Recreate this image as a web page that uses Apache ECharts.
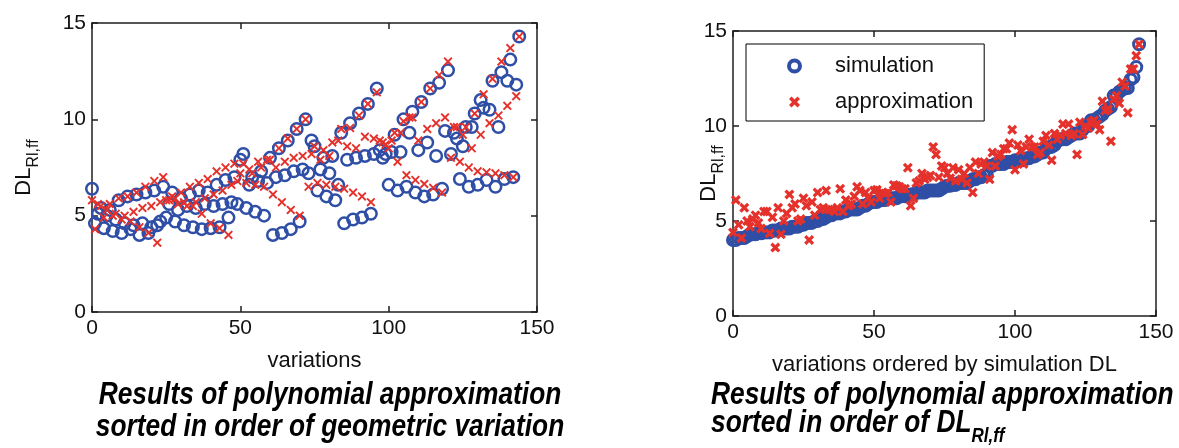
<!DOCTYPE html>
<html>
<head>
<meta charset="utf-8">
<script src="https://cdn.jsdelivr.net/npm/echarts@6/dist/echarts.min.js"></script>
<style>
html,body{margin:0;padding:0;background:#fff;}
#chart{width:1179px;height:448px;}
</style>
</head>
<body>
<div id="chart"></div>
<script>
// DL_Rl,ff for each geometric variation (array index = variation 0..144)
var simulation = [
  6.4,
  4.6, 5.1, 5.4, 4.35, 5.0, 5.3, 4.2, 4.8, 5.8, 4.1, 4.6, 6.0, 4.3, 4.5, 6.1, 4.0, 4.6, 6.2, 4.1, 4.4, 6.3, 4.5, 4.7, 6.5,
  4.9, 5.6, 6.2, 4.7, 5.3, 5.9, 4.5, 5.5, 6.1, 4.4, 5.4, 6.3, 4.3, 5.6, 6.2, 4.35, 5.5, 6.6, 4.4, 5.6, 6.85, 4.9, 5.7, 7.0,
  5.6, 7.9, 8.2, 5.4, 6.6, 7.0, 5.2, 6.8, 7.3, 5.0, 6.7, 8.0, 4.0, 7.0, 8.5, 4.1, 7.1, 8.9, 4.3, 7.3, 9.5, 4.7, 7.4, 10.0,
  7.2, 8.9, 8.6, 6.3, 7.4, 8.0, 6.0, 7.2, 8.1, 5.8, 6.6, 9.3, 4.6, 7.9, 9.8, 4.8, 8.0, 10.3, 4.9, 8.1, 10.8, 5.1, 8.2, 11.6,
  8.4, 8.0, 8.2, 6.6, 8.3, 9.2, 6.3, 8.3, 10.0, 6.5, 9.3, 10.4, 6.2, 8.4, 10.9, 6.0, 8.8, 11.6, 6.1, 8.1, 11.9, 6.4, 9.4, 12.55,
  8.2, 9.3, 9.0, 6.9, 8.6, 9.6, 6.5, 9.6, 10.3, 6.6, 11.0, 10.6, 6.85, 10.5, 12.0, 6.5, 9.6, 12.45, 6.9, 12.0, 13.1, 7.0, 11.8, 14.3
];
var approximation = [
  5.8,
  4.3, 5.6, 5.5, 4.9, 5.3, 5.6, 5.0, 5.1, 5.9, 4.8, 5.0, 6.0, 4.7, 5.2, 6.2, 4.4, 5.4, 6.5, 4.1, 5.5, 6.8, 3.6, 5.7, 7.0,
  5.8, 5.8, 6.0, 5.9, 5.6, 6.2, 5.7, 5.5, 6.5, 5.5, 5.7, 6.7, 5.1, 5.9, 6.9, 4.6, 6.1, 7.3, 4.35, 6.3, 7.5, 4.0, 6.6, 7.7,
  6.8, 7.2, 7.7, 6.7, 7.4, 7.2, 6.6, 7.8, 7.5, 6.5, 7.9, 7.9, 6.1, 7.5, 8.5, 5.7, 7.8, 9.0, 5.3, 8.0, 9.5, 5.0, 8.1, 10.0,
  6.5, 8.2, 8.6, 6.7, 7.9, 8.4, 6.6, 8.1, 8.8, 6.5, 8.9, 9.5, 6.4, 8.6, 9.55, 6.2, 8.5, 10.2, 6.0, 9.1, 10.8, 5.7, 9.0, 11.4,
  8.9, 8.8, 8.7, 8.5, 8.9, 9.3, 7.8, 9.3, 9.9, 7.1, 10.1, 10.1, 6.85, 8.9, 10.9, 6.65, 9.5, 11.6, 6.45, 9.8, 12.3, 6.2, 10.1, 13.0,
  8.0, 9.6, 9.6, 7.8, 9.2, 9.6, 7.5, 8.5, 10.3, 7.3, 9.2, 11.3, 7.25, 9.8, 12.1, 7.2, 10.2, 13.0, 7.1, 10.7, 13.7, 7.0, 11.2, 14.3
];
var xTicks = {min: 0, max: 150, step: 50};
var yTicks = {min: 0, max: 15, step: 5};

var BLUE = '#2f4ea6';
var RED = '#e5312b';
var AX = '#1e1e1e';
var FONT = '"Liberation Sans", Arial, sans-serif';
var crossThin = 'path://M0,1.5L1.5,0L5,3.5L8.5,0L10,1.5L6.5,5L10,8.5L8.5,10L5,6.5L1.5,10L0,8.5L3.5,5Z';
var crossBold = 'path://M0,2.3L2.3,0L5,2.7L7.7,0L10,2.3L7.3,5L10,7.7L7.7,10L5,7.3L2.3,10L0,7.7L2.7,5Z';

// geometric order
var simLeft = simulation.map(function (v, i) { return [i, v]; });
var appLeft = approximation.map(function (v, i) { return [i, v]; });
// ordered by simulated DL
var order = simulation.map(function (v, i) { return i; });
order.sort(function (a, b) { return simulation[a] - simulation[b]; });
var simRight = order.map(function (idx, r) { return [r, simulation[idx]]; });
var appRight = order.map(function (idx, r) { return [r, approximation[idx]]; });

function xAx(grid, pos, name) {
  return {
    gridIndex: grid, type: 'value', position: pos,
    min: xTicks.min, max: xTicks.max, interval: xTicks.step,
    name: name || '', nameLocation: 'middle', nameGap: 38,
    nameTextStyle: {fontFamily: FONT, fontSize: 22, color: '#111'},
    axisLine: {show: true, onZero: false, lineStyle: {color: AX, width: 1.5}},
    axisTick: {show: true, inside: true, length: 6, lineStyle: {color: AX, width: 1.5}},
    axisLabel: {show: pos === 'bottom', margin: 6, fontFamily: FONT, fontSize: 21, color: '#111'},
    splitLine: {show: false}
  };
}
function yAx(grid, pos, gap, moveOverlap) {
  return {
    gridIndex: grid, type: 'value', position: pos,
    min: yTicks.min, max: yTicks.max, interval: yTicks.step,
    name: pos === 'left' ? '{a|DL}{b|Rl,ff}' : '',
    nameLocation: 'middle', nameRotate: 90, nameGap: gap, nameMoveOverlap: moveOverlap,
    nameTextStyle: {
      fontFamily: FONT, fontSize: 21, color: '#111',
      rich: {
        a: {fontFamily: FONT, fontSize: 22, color: '#111', padding: [0, 0, 7, 0]},
        b: {fontFamily: FONT, fontSize: 16, color: '#111', verticalAlign: 'bottom'}
      }
    },
    axisLine: {show: true, onZero: false, lineStyle: {color: AX, width: 1.5}},
    axisTick: {show: true, inside: true, length: 6, lineStyle: {color: AX, width: 1.5}},
    axisLabel: {show: pos === 'left', margin: 6, fontFamily: FONT, fontSize: 21, color: '#111'},
    splitLine: {show: false}
  };
}

function caption(x, y, text, align) {
  return {type: 'text', x: x, y: y, scaleX: 0.85, silent: true,
    style: {text: text, fontFamily: FONT, fontSize: 31, fontStyle: 'italic', fontWeight: 'bold',
      fill: '#000', align: align, verticalAlign: 'middle'}};
}

var chart = echarts.init(document.getElementById('chart'), null, {renderer: 'canvas'});
chart.setOption({
  animation: false,
  backgroundColor: '#fff',
  grid: [
    {left: 92, top: 23, width: 445, height: 289},
    {left: 733, top: 31, width: 423, height: 285}
  ],
  xAxis: [
    xAx(0, 'bottom', 'variations'), xAx(0, 'top'),
    xAx(1, 'bottom', 'variations ordered by simulation DL'), xAx(1, 'top')
  ],
  yAxis: [
    yAx(0, 'left', 50, true), yAx(0, 'right', 0, true),
    yAx(1, 'left', 6, false), yAx(1, 'right', 0, true)
  ],
  legend: {
    orient: 'vertical', left: 746, top: 44,
    borderColor: '#000', borderWidth: 1, padding: [11, 11, 8, 41],
    itemWidth: 71, itemHeight: 11, itemGap: 14,
    textStyle: {fontFamily: FONT, fontSize: 22, color: '#111', lineHeight: 21},
    selectedMode: false,
    data: [
      {name: 'simulation', icon: 'circle', itemStyle: {color: 'rgba(0,0,0,0)', borderColor: BLUE, borderWidth: 4}},
      {name: 'approximation', icon: crossBold, itemStyle: {color: RED, borderWidth: 0}}
    ]
  },
  series: [
    {name: 'simulation', type: 'scatter', xAxisIndex: 0, yAxisIndex: 0, data: simLeft,
      symbol: 'circle', symbolSize: 11.5,
      itemStyle: {color: 'rgba(0,0,0,0)', borderColor: BLUE, borderWidth: 2.5, opacity: 1}},
    {name: 'approximation', type: 'scatter', xAxisIndex: 0, yAxisIndex: 0, data: appLeft,
      symbol: crossThin, symbolSize: 9,
      itemStyle: {color: RED, borderWidth: 0, opacity: 1}},
    {name: 'simulation', type: 'scatter', xAxisIndex: 2, yAxisIndex: 2, data: simRight,
      symbol: 'circle', symbolSize: 11,
      itemStyle: {color: 'rgba(0,0,0,0)', borderColor: BLUE, borderWidth: 3, opacity: 1}},
    {name: 'approximation', type: 'scatter', xAxisIndex: 2, yAxisIndex: 2, data: appRight,
      symbol: crossBold, symbolSize: 10,
      itemStyle: {color: RED, borderWidth: 0, opacity: 1}}
  ],
  graphic: [
    caption(330, 395, 'Results of polynomial approximation', 'center'),
    caption(330, 427, 'sorted in order of geometric variation', 'center'),
    caption(711, 395, 'Results of polynomial approximation', 'left'),
    {type: 'text', x: 711, y: 427, scaleX: 0.85, silent: true,
      style: {text: '{a|sorted in order of DL}{b|Rl,ff}', fill: '#000', align: 'left', verticalAlign: 'middle',
        rich: {
          a: {fontFamily: FONT, fontSize: 31, fontStyle: 'italic', fontWeight: 'bold', fill: '#000', padding: [0, 0, 8, 0]},
          b: {fontFamily: FONT, fontSize: 20, fontStyle: 'italic', fontWeight: 'bold', fill: '#000', verticalAlign: 'bottom'}
        }}}
  ]
});
</script>
</body>
</html>
